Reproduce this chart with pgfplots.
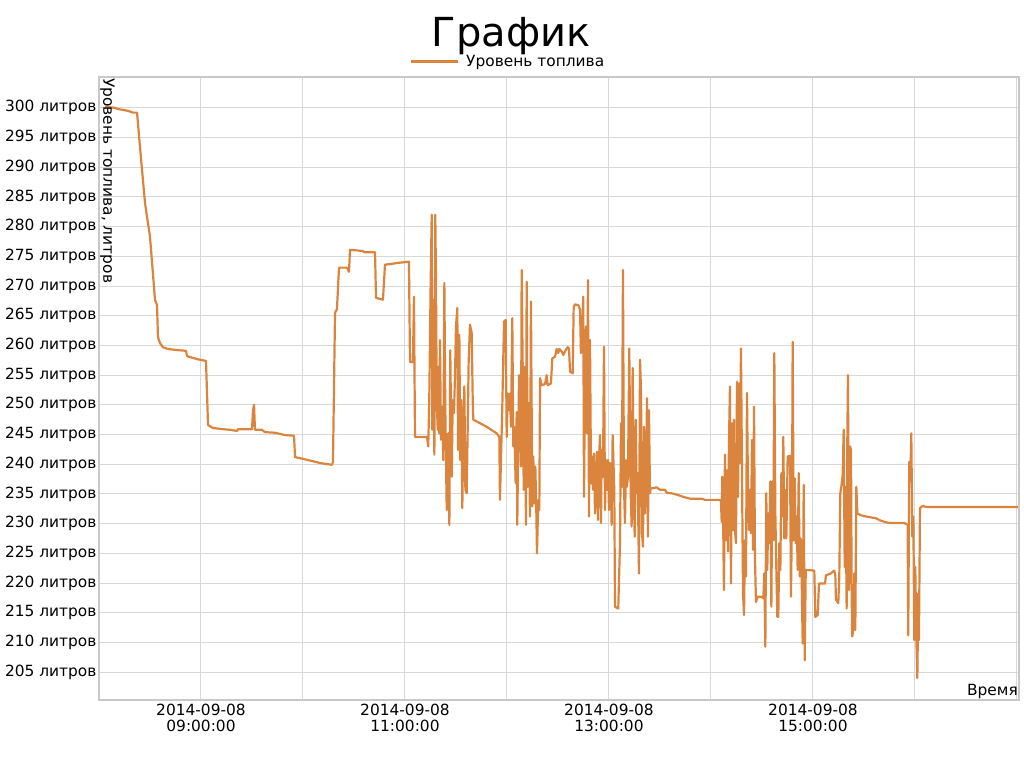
\documentclass[border=0pt]{standalone}
\usepackage{pgfplots}
\pgfplotsset{compat=1.18}
\usepackage{fontspec}
\setmainfont{DejaVu Sans}
\definecolor{fuel}{RGB}{219,132,61}
\definecolor{gridc}{RGB}{216,216,216}
\definecolor{framec}{RGB}{200,200,200}
\begin{document}
\begin{tikzpicture}
\useasboundingbox (0,0) rectangle (1024pt,768pt);
\node[font=\fontsize{40}{44}\selectfont, anchor=base] at (511pt,721pt) {График};
\begin{axis}[
  at={(99pt,68pt)}, anchor=south west,
  width=920pt, height=623pt, scale only axis,
  xmin=8, xmax=17.02, ymin=200.3, ymax=305.2,
  xtick={9,11,13,15},
  xticklabels={{2014-09-08\\09:00:00},{2014-09-08\\11:00:00},{2014-09-08\\13:00:00},{2014-09-08\\15:00:00}},
  minor xtick={10,12,14,16,17},
  ytick={205,210,...,300},
  yticklabel={\pgfmathprintnumber{\tick} литров},
  /pgf/number format/assume math mode=true,
  xticklabel style={align=center, font=\fontsize{15.4}{16}\selectfont, yshift=-1pt},
  yticklabel style={font=\fontsize{15.4}{16}\selectfont, xshift=1pt},
  major tick length=0pt, minor tick length=0pt,
  grid=both,
  major grid style={gridc, line width=1pt},
  minor grid style={gridc, line width=1pt},
  axis line style={framec, line width=1.5pt},
  legend style={at={(0.4446,1)}, anchor=south, yshift=6pt, draw=none, fill=none,
    font=\fontsize{15.4}{16}\selectfont, inner sep=1pt},
  legend image code/.code={\draw[#1, line width=2.5pt] (0pt,0pt) -- (47pt,0pt); \path (52pt,0pt);},
  legend cell align=left,
]
\addplot[fuel, line width=2.2pt, line join=round] table {
x y
8.059 300.2
8.157 300.0
8.186 299.8
8.225 299.7
8.284 299.5
8.333 299.2
8.373 299.2
8.402 293.4
8.451 284.0
8.500 278.3
8.549 267.7
8.569 266.8
8.578 261.4
8.598 260.4
8.627 259.7
8.676 259.4
8.775 259.2
8.853 259.1
8.863 258.2
8.961 257.7
9.049 257.4
9.069 246.6
9.118 246.1
9.216 245.9
9.284 245.8
9.353 245.6
9.363 245.9
9.500 245.9
9.510 249.1
9.520 250.0
9.529 245.8
9.598 245.8
9.627 245.4
9.725 245.3
9.824 244.9
9.912 244.8
9.922 241.2
10.000 240.9
10.098 240.5
10.167 240.2
10.284 239.9
10.294 240.4
10.314 265.5
10.333 266.1
10.353 273.1
10.431 273.1
10.451 272.4
10.461 276.1
10.588 275.9
10.598 275.7
10.706 275.7
10.716 268.0
10.784 267.7
10.804 273.6
10.853 273.7
10.931 273.9
11.039 274.1
11.049 257.2
11.078 257.2
11.088 268.2
11.098 244.6
11.216 244.6
11.228 243.0
11.238 250.8
11.252 271.0
11.262 282.0
11.268 245.8
11.278 267.7
11.288 241.6
11.297 282.0
11.304 271.0
11.311 250.8
11.321 245.8
11.327 256.4
11.336 245.2
11.343 260.9
11.353 244.1
11.363 249.7
11.376 240.7
11.386 270.5
11.395 249.7
11.409 232.3
11.422 245.2
11.435 229.8
11.444 259.2
11.458 237.9
11.468 250.8
11.480 248.6
11.490 254.7
11.500 263.2
11.513 266.3
11.520 242.4
11.533 261.8
11.542 240.7
11.552 250.8
11.562 232.6
11.572 246.3
11.582 253.1
11.592 235.7
11.605 235.1
11.615 246.3
11.624 257.0
11.637 263.5
11.654 262.1
11.664 250.8
11.670 247.5
11.703 247.2
11.801 246.3
11.899 245.2
11.925 244.6
11.931 234.0
11.941 240.7
11.954 249.7
11.971 264.0
11.987 264.3
11.997 244.6
12.007 251.9
12.020 249.1
12.029 251.9
12.039 246.3
12.052 264.6
12.062 243.0
12.072 246.3
12.085 236.8
12.095 248.8
12.101 229.8
12.118 255.0
12.127 246.3
12.137 239.6
12.144 272.7
12.154 256.4
12.164 235.7
12.176 256.4
12.186 229.8
12.193 270.7
12.203 236.2
12.216 250.3
12.225 231.2
12.235 267.4
12.248 232.9
12.258 241.3
12.268 233.4
12.278 239.6
12.288 231.7
12.294 225.0
12.307 234.0
12.317 232.3
12.324 254.5
12.340 253.3
12.373 253.5
12.389 255.0
12.399 253.3
12.431 253.6
12.444 257.8
12.471 258.1
12.487 259.4
12.503 258.7
12.513 259.4
12.536 259.0
12.552 258.4
12.575 259.2
12.595 259.7
12.608 259.5
12.618 255.6
12.644 255.3
12.654 266.5
12.667 266.9
12.699 266.8
12.716 266.0
12.725 258.7
12.738 263.5
12.748 268.2
12.755 234.5
12.765 254.7
12.775 263.2
12.784 245.2
12.794 271.0
12.804 231.2
12.814 260.9
12.824 236.8
12.833 241.3
12.843 235.7
12.853 241.8
12.863 231.7
12.873 237.9
12.882 242.1
12.892 230.6
12.902 240.7
12.912 244.9
12.922 230.1
12.928 242.4
12.941 237.9
12.951 259.8
12.961 232.3
12.971 240.7
12.980 235.7
12.990 240.7
13.000 232.3
13.010 240.2
13.020 235.1
13.026 229.8
13.036 244.9
13.052 235.7
13.059 216.0
13.091 215.7
13.108 226.7
13.118 246.9
13.127 236.2
13.137 272.7
13.147 236.2
13.157 230.1
13.167 240.7
13.176 236.2
13.186 237.9
13.199 259.5
13.213 235.1
13.222 229.5
13.232 256.2
13.242 236.2
13.252 227.8
13.262 247.5
13.271 235.1
13.281 238.5
13.294 221.6
13.304 257.6
13.314 252.5
13.324 228.4
13.333 226.1
13.343 246.3
13.353 231.7
13.363 238.5
13.373 251.1
13.382 227.8
13.392 249.1
13.402 235.1
13.409 235.9
13.467 236.1
13.500 235.7
13.549 235.7
13.566 235.2
13.615 235.1
13.680 234.8
13.729 234.5
13.794 234.2
13.909 234.2
13.941 234.0
14.088 234.0
14.098 233.7
14.105 230.3
14.111 237.9
14.121 227.8
14.127 218.8
14.137 241.6
14.147 227.2
14.157 239.0
14.167 225.3
14.176 243.5
14.186 253.1
14.196 219.9
14.206 246.9
14.216 228.9
14.225 247.5
14.235 228.9
14.245 226.7
14.255 253.9
14.265 234.5
14.275 253.6
14.284 240.2
14.294 259.5
14.304 239.0
14.314 218.3
14.324 214.6
14.333 227.2
14.343 221.1
14.353 252.0
14.363 235.7
14.373 228.9
14.382 235.7
14.392 228.4
14.402 244.1
14.412 225.6
14.422 249.7
14.431 224.4
14.441 216.8
14.458 217.7
14.497 217.7
14.513 217.4
14.523 221.6
14.533 209.3
14.542 235.1
14.552 222.2
14.562 231.7
14.572 226.7
14.582 237.1
14.592 216.0
14.601 237.1
14.611 227.2
14.621 258.7
14.631 231.7
14.641 222.2
14.650 214.3
14.660 214.3
14.670 226.7
14.680 222.2
14.690 238.5
14.699 231.2
14.709 244.6
14.719 227.5
14.729 235.7
14.739 227.5
14.752 241.3
14.775 241.4
14.784 217.7
14.794 231.2
14.801 260.6
14.811 227.2
14.821 237.6
14.830 226.7
14.840 231.2
14.850 222.2
14.860 238.5
14.870 221.1
14.879 227.5
14.889 221.1
14.899 209.8
14.909 236.5
14.919 207.0
14.929 222.2
15.013 222.1
15.023 214.3
15.046 214.6
15.059 219.9
15.118 219.9
15.127 221.3
15.176 221.6
15.193 221.9
15.209 222.1
15.219 221.3
15.225 217.2
15.248 216.6
15.258 221.1
15.268 235.1
15.278 236.2
15.291 238.2
15.301 245.8
15.311 222.7
15.320 236.2
15.330 215.7
15.336 243.0
15.343 255.0
15.353 218.8
15.363 243.0
15.373 242.4
15.379 218.3
15.385 211.0
15.395 212.1
15.405 221.6
15.415 212.1
15.425 236.2
15.435 231.7
15.471 231.4
15.520 231.2
15.618 230.9
15.650 230.6
15.699 230.3
15.748 230.1
15.895 230.1
15.928 229.8
15.934 211.2
15.944 240.4
15.954 237.3
15.964 245.2
15.974 227.8
15.984 231.2
15.993 210.4
16.003 222.7
16.013 211.0
16.023 204.0
16.033 218.3
16.039 210.4
16.049 232.6
16.075 233.0
16.108 232.8
17.010 232.8
};
\addlegendentry{Уровень топлива}
\node[rotate=-90, anchor=south west, inner sep=1pt, font=\fontsize{15.4}{16}\selectfont] at (rel axis cs:0,1) {Уровень топлива, литров};
\node[anchor=south east, inner sep=1pt, font=\fontsize{15.4}{16}\selectfont] at (rel axis cs:1,0) {Время};
\end{axis}
\end{tikzpicture}
\end{document}
